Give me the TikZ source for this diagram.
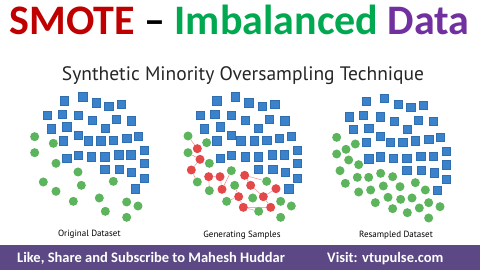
\documentclass[tikz,border=0pt]{standalone}
\usepackage{fontspec}
\setmainfont{Carlito}
\newfontfamily\dinfont{PT Sans}
\definecolor{tred}{RGB}{192,0,0}
\definecolor{tgreen}{RGB}{0,168,80}
\definecolor{tpurple}{RGB}{112,48,160}
\definecolor{sqblue}{RGB}{58,130,204}
\definecolor{cgreen}{RGB}{92,180,92}
\definecolor{cred}{RGB}{228,72,72}
\definecolor{band}{RGB}{92,72,132}
\begin{document}
\begin{tikzpicture}[x=1pt,y=-1pt,
  sq/.style={fill=sqblue, draw=sqblue!85!black, line width=0.2pt, minimum size=8.5pt, inner sep=0pt},
  gc/.style={circle, fill=cgreen, minimum size=9pt, inner sep=0pt},
  rc/.style={circle, fill=cred, minimum size=9pt, inner sep=0pt},
  link/.style={draw=cred!70, line width=0.4pt},
  lbl/.style={font=\dinfont\fontsize{9}{9}\selectfont, text=black, inner sep=0pt, anchor=base}]
\useasboundingbox (0,0) rectangle (480,270);
\fill[white] (0,0) rectangle (480,270);
% title
\node[font=\bfseries\fontsize{42}{42}\selectfont, inner sep=0pt, anchor=base] (title) at (239.5,35)
  {\textcolor{tred}{SMOTE} – \textcolor{tgreen}{Imbalanced} \textcolor{tpurple}{Data}};
\node[font=\dinfont\fontsize{19.5}{19.5}\selectfont, text=black!85, inner sep=0pt, anchor=base] (sub) at (243,81)
  {Synthetic Minority Oversampling Technique};
% panel 1
\begin{scope}[shift={(0,80)}, scale=1/3]
\foreach \x/\y [count=\i] in {192/62,248/50,288/68,326/78,364/72,142/106,186/102,234/106,276/120,348/118,394/122,154/146,200/140,316/144,234/166,190/182,264/182,302/182,340/180,380/174,414/168,200/234,234/226,274/230,314/230,356/224,392/224,432/210,432/250,314/268,358/268,394/276,432/294,406/326}
  \node[sq] (s1-\i) at (\x,\y) {};
\foreach \x/\y [count=\i] in {104/170,160/190,104/218,168/250,234/276,130/306,244/316,340/304,168/334,220/364,298/354,316/394,380/366,414/378,380/412}
  \node[gc] (g1-\i) at (\x,\y) {};
\node[lbl] (lab1) at (268,470) {Original Dataset};
\end{scope}
% panel 2
\begin{scope}[shift={(160,80)}, scale=1/3]
\foreach \x/\y [count=\i] in {170/62,226/50,266/68,306/78,344/72,120/106,164/102,214/106,256/120,328/118,374/122,132/146,180/140,294/144,214/166,170/182,242/182,282/182,320/180,358/174,394/168,180/234,214/226,256/230,294/230,336/224,372/224,412/210,412/250,294/268,338/268,376/276,412/294,386/326}
  \node[sq] (s2-\i) at (\x,\y) {};
\foreach \x/\y [count=\i] in {84/168,140/188,84/218,148/250,214/272,112/306,148/332,224/316,320/304,200/364,278/354,296/394,362/364,394/378,362/412}
  \node[gc] (g2-\i) at (\x,\y) {};
\foreach \x/\y [count=\i] in {112/206,120/238,94/270,146/290,180/290,186/328,254/286,272/316,236/350,250/382,310/350,332/382,348/326}
  \node[rc] (r2-\i) at (\x,\y) {};
\foreach \a/\b in {g2-1/r2-1,g2-3/r2-2,r2-3/g2-6,r2-2/r2-3,r2-4/r2-5,r2-5/r2-6,g2-5/r2-6,r2-7/g2-9,r2-7/r2-8,r2-9/r2-10,g2-10/r2-9,r2-11/r2-12,r2-10/g2-12,r2-11/r2-13,r2-8/r2-11,r2-4/g2-7,g2-8/r2-9,r2-10/r2-12}
  \draw[link] (\a) -- (\b);
\node[lbl] (lab2) at (246,472) {Generating Samples};
\end{scope}
% panel 3
\begin{scope}[shift={(320,80)}, scale=1/3]
\foreach \x/\y [count=\i] in {138/64,192/54,234/72,272/82,310/76,88/110,130/106,180/110,222/124,294/120,340/124,100/148,146/144,262/148,180/168,138/186,210/186,248/186,286/182,326/178,360/172,146/236,180/230,220/234,260/234,302/228,340/228,378/214,378/254,260/270,304/270,342/278,378/298,352/330}
  \node[sq] (s3-\i) at (\x,\y) {};
\foreach \x/\y [count=\i] in {50/172,106/192,50/222,78/208,86/240,116/254,60/272,112/292,146/292,182/280,218/290,76/310,116/336,152/330,190/318,240/320,286/308,316/330,166/368,204/352,242/358,276/354,326/368,360/380,218/386,262/398,298/384,326/414}
  \node[gc] (g3-\i) at (\x,\y) {};
\node[lbl] (lab3) at (228,472) {Resampled Dataset};
\end{scope}
% footer
\fill[band] (0,245) rectangle (480,270);
\node[font=\bfseries\fontsize{14.5}{14.5}\selectfont, text=white, inner sep=0pt, anchor=base west] (like) at (17,262) {Like, Share and Subscribe to Mahesh Huddar};
\node[font=\bfseries\fontsize{14.5}{14.5}\selectfont, text=white, inner sep=0pt, anchor=base west] (visit) at (327,262) {Visit: vtupulse.com};
\end{tikzpicture}
\end{document}
